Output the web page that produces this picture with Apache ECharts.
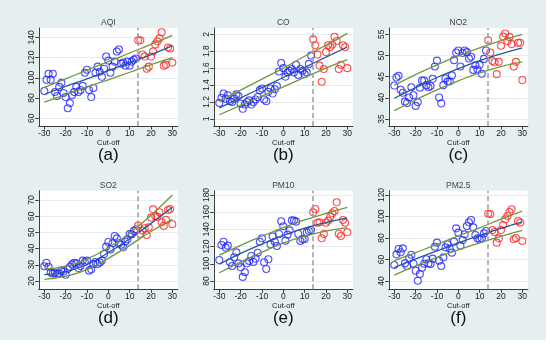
<!DOCTYPE html>
<html><head><meta charset="utf-8">
<script src="https://cdn.jsdelivr.net/npm/echarts@6/dist/echarts.min.js"></script>
<style>html,body{margin:0;padding:0;background:#fff}#c{width:546px;height:340px}</style>
</head><body><div id="c"></div>
<script>
// ---------- data ----------
const panelTitles = ['AQI', 'CO', 'NO2', 'SO2', 'PM10', 'PM2.5'];
const panelLetters = ['(a)', '(b)', '(c)', '(d)', '(e)', '(f)'];
const xAxisName = 'Cut-off';
const cutoffDay = 14;
const xTicks = [-30, -20, -10, 0, 10, 20, 30];
const daysBefore = [-30,-29,-28,-27,-26,-25,-24,-23,-22,-21,-20,-19,-18,-17,-16,-15,-14,-13,-12,-11,-10,-9,-8,-7,-6,-5,-4,-3,-2,-1,0,1,2,3,4,5,6,7,8,9,10,11,12,13];
const daysAfter = [14,15,16,17,18,19,20,21,22,23,24,25,26,27,28,29,30];
const fitDays = [-30, -20, -10, 0, 10, 20, 30];

const aqiBefore = [87,98,104,98,104,86,82,91,95,85,81,70,75,83,86,91,86,88,92,105,108,88,81,90,105,111,106,101,109,121,117,105,111,116,126,128,114,115,112,116,112,116,118,119];
const aqiAfter = [137,137,123,121,109,111,121,126,133,136,139,145,112,113,130,129,115];
const aqiFit = [83.5,91.5,99,107,115,123,131.5];
const aqiUpper = [90.5,99,107.5,116,124.5,133,142];
const aqiLower = [76,83.5,91,98,105.5,113,120];
const aqiTicks = [60,80,100,120,140];

const coBefore = [1.19,1.25,1.30,1.24,1.28,1.21,1.20,1.24,1.29,1.27,1.18,1.12,1.17,1.20,1.22,1.17,1.20,1.23,1.26,1.34,1.36,1.23,1.21,1.32,1.36,1.30,1.35,1.39,1.56,1.66,1.60,1.50,1.55,1.57,1.59,1.55,1.64,1.52,1.59,1.57,1.53,1.55,1.65,1.75];
const coAfter = [1.94,1.87,1.76,1.63,1.44,1.59,1.79,1.87,1.85,1.88,1.97,1.92,1.59,1.64,1.87,1.85,1.60];
const coFit = [1.13,1.25,1.37,1.49,1.61,1.73,1.85];
const coUpper = [1.21,1.34,1.47,1.60,1.74,1.87,2.01];
const coLower = [1.05,1.16,1.27,1.38,1.49,1.60,1.70];
const coTicks = [1,1.2,1.4,1.6,1.8,2];

const no2Before = [42.9,44.8,45.2,41.9,41.2,39.1,38.8,40.1,42.5,40.6,38.1,39.0,42.4,44.1,44.1,43.0,42.5,42.8,44.5,47.4,48.8,40.1,38.7,43.0,44.6,43.9,43.9,45.3,48.9,50.7,51.2,47.4,50.6,51.2,50.8,49.3,49.7,46.6,47.7,46.7,47.8,45.7,49.2,51.2];
const no2After = [53.6,50.7,48.7,48.4,45.6,48.5,52.3,54.5,55.2,53.4,54.4,52.7,47.4,48.5,53.0,53.0,44.2];
const no2Fit = [39.9,42.4,44.8,46.9,48.8,50.4,51.8];
const no2Upper = [43.0,45.5,47.8,49.9,51.8,53.5,55.0];
const no2Lower = [37.0,39.5,41.9,44.0,45.9,47.4,48.5];
const no2Ticks = [35,40,45,50,55];

const so2Before = [29.1,31.3,28.8,25.3,24.7,25.1,24.3,24.7,26.4,25.8,23.9,27.4,28.8,30.3,31.3,30.9,28.0,29.3,32.6,31.7,32.6,26.4,27.2,30.5,31.7,30.5,31.5,32.6,36.7,41.2,44.1,39.5,43.3,47.8,46.3,43.3,42.4,40.8,44.3,45.7,49.0,48.8,50.9,51.9];
const so2After = [54.2,49.2,51.1,52.5,48.4,53.1,59.1,64.2,60.1,59.7,62.4,56.2,54.0,57.7,63.8,64.4,55.0];
const so2Fit = [24.0,25.8,30.2,37.5,46.0,55.5,65.5];
const so2Upper = [27.5,29.0,33.5,40.5,49.5,60.5,73.0];
const so2Lower = [21.0,23.0,27.0,34.0,42.0,50.5,58.0];
const so2Ticks = [20,30,40,50,60,70];

const pm10Before = [104.4,121.9,125.7,118.8,121.1,101.7,97.4,107.5,113.3,100.5,95.9,84.7,90.1,100.5,103.3,109.1,102.1,106.0,112.9,125.7,129.6,101.7,94.0,105.2,122.6,131.9,125.7,120.7,134.7,149.4,143.6,126.9,133.9,138.9,150.5,150.2,149.0,135.0,126.5,128.4,128.8,136.6,138.1,139.3];
const pm10After = [159.8,163.7,147.8,148.2,129.6,134.7,147.8,150.2,154.8,158.7,161.4,171.5,135.0,132.3,150.9,147.8,136.6];
const pm10Fit = [99.5,112,123,133,141.5,148,153.5];
const pm10Upper = [110,121.5,132,142,151,158.5,165.5];
const pm10Lower = [89.5,102,113.5,124,132,138,142];
const pm10Ticks = [80,100,120,140,160,180];

const pm25Before = [54.9,64.8,69.8,66.7,70.4,56.4,54.0,61.1,64.5,56.1,49.6,40.3,46.5,52.4,56.1,60.2,56.4,55.8,60.8,71.9,75.7,58.9,54.0,62.0,71.3,74.1,70.1,66.4,76.6,89.0,85.0,72.9,78.1,83.4,91.2,94.6,96.7,89.9,82.8,79.7,78.8,79.7,84.3,86.5];
const pm25After = [102.6,102.3,87.4,85.6,75.7,79.7,87.4,92.1,97.4,100.5,104.2,106.7,78.8,80.0,95.8,94.3,77.2];
const pm25Fit = [52.5,60.5,68,75.5,82.5,89,95];
const pm25Upper = [59,66.5,74,82,89.5,97.5,105];
const pm25Lower = [45.5,54,62,69,75.5,81.5,87];
const pm25Ticks = [40,60,80,100,120];

// ---------- layout ----------
const panelData = [
  {before: aqiBefore, after: aqiAfter, fit: aqiFit, upper: aqiUpper, lower: aqiLower, ticks: aqiTicks},
  {before: coBefore, after: coAfter, fit: coFit, upper: coUpper, lower: coLower, ticks: coTicks},
  {before: no2Before, after: no2After, fit: no2Fit, upper: no2Upper, lower: no2Lower, ticks: no2Ticks},
  {before: so2Before, after: so2After, fit: so2Fit, upper: so2Upper, lower: so2Lower, ticks: so2Ticks},
  {before: pm10Before, after: pm10After, fit: pm10Fit, upper: pm10Upper, lower: pm10Lower, ticks: pm10Ticks},
  {before: pm25Before, after: pm25After, fit: pm25Fit, upper: pm25Upper, lower: pm25Lower, ticks: pm25Ticks}
];
const yRanges = [[52.4,149.2],[0.917,2.074],[33.35,56.5],[14.9,75.7],[70.3,185],[32.3,124]];
const colLeft = [38.75, 213.75, 388.75];
const gridW = 139.1;
const rowTop = [28, 190.7];
const rowH = [98, 98.6];
const xMin = -32.6, xMax = 32.6;
const FONT = '"Liberation Sans", Arial, sans-serif';
const AXIS_COLOR = '#3c3c3c';

const grids = [], xAxes = [], yAxes = [], series = [], graphics = [];
panelData.forEach((p, i) => {
  const col = i % 3, row = Math.floor(i / 3);
  const left = colLeft[col], top = rowTop[row], h = rowH[row];
  grids.push({left: left, top: top, width: gridW, height: h, show: true,
    backgroundColor: '#ffffff', borderWidth: 0, containLabel: false, outerBoundsMode: 'none'});
  xAxes.push({
    gridIndex: i, type: 'value', min: xMin, max: xMax,
    axisLine: {show: true, onZero: false, lineStyle: {color: AXIS_COLOR, width: 1}},
    axisTick: {show: true, length: 3.5, customValues: xTicks, lineStyle: {color: AXIS_COLOR, width: 1}},
    axisLabel: {customValues: xTicks, fontSize: 8.5, margin: 3, color: '#1a1a1a', fontFamily: FONT},
    splitLine: {show: false},
    name: xAxisName, nameLocation: 'middle', nameGap: 10,
    nameTextStyle: {fontSize: 7.5, color: '#1a1a1a', fontFamily: FONT}
  });
  yAxes.push({
    gridIndex: i, type: 'value', min: yRanges[i][0], max: yRanges[i][1],
    axisLine: {show: true, onZero: false, lineStyle: {color: AXIS_COLOR, width: 1}},
    axisTick: {show: true, length: 3.5, customValues: p.ticks, lineStyle: {color: AXIS_COLOR, width: 1}},
    axisLabel: {customValues: p.ticks, rotate: 90, fontSize: 8.5, margin: 2.5, color: '#1a1a1a', fontFamily: FONT},
    splitLine: {show: true, lineStyle: {color: '#e4ecef', width: 1}}
  });
  series.push({
    type: 'scatter', xAxisIndex: i, yAxisIndex: i,
    data: daysBefore.map((d, j) => [d, p.before[j]]),
    symbol: 'circle', symbolSize: 7,
    itemStyle: {color: 'rgba(0,0,0,0)', borderColor: '#2424ff', borderWidth: 1.1},
    markLine: {silent: true, symbol: 'none', label: {show: false}, animation: false,
      lineStyle: {color: '#9a9a9a', type: [5, 3], width: 1.5},
      data: [{xAxis: cutoffDay}]}
  });
  series.push({
    type: 'scatter', xAxisIndex: i, yAxisIndex: i,
    data: daysAfter.map((d, j) => [d, p.after[j]]),
    symbol: 'circle', symbolSize: 7,
    itemStyle: {color: 'rgba(0,0,0,0)', borderColor: '#ff2424', borderWidth: 1.1}
  });
  [[p.upper, '#72983a'], [p.lower, '#72983a'], [p.fit, '#1f5e8c']].forEach(([vals, c]) => {
    series.push({
      type: 'line', xAxisIndex: i, yAxisIndex: i, smooth: true, showSymbol: false, silent: true,
      data: fitDays.map((d, j) => [d, vals[j]]),
      lineStyle: {color: c, width: 1.3}
    });
  });
  const cx = left + gridW / 2;
  graphics.push({type: 'text', x: cx, y: top - 5.5,
    style: {text: panelTitles[i], fontSize: 8.5, fontFamily: FONT, fill: '#444', align: 'center', verticalAlign: 'middle'}});
  graphics.push({type: 'text', x: cx, y: top + h + 29,
    style: {text: panelLetters[i], fontSize: 17, fontFamily: FONT, fill: '#111', align: 'center', verticalAlign: 'middle'}});
});

const chart = echarts.init(document.getElementById('c'), null, {renderer: 'canvas'});
chart.setOption({
  animation: false,
  backgroundColor: '#e5eff0',
  grid: grids, xAxis: xAxes, yAxis: yAxes, series: series,
  graphic: graphics
});
</script></body></html>
